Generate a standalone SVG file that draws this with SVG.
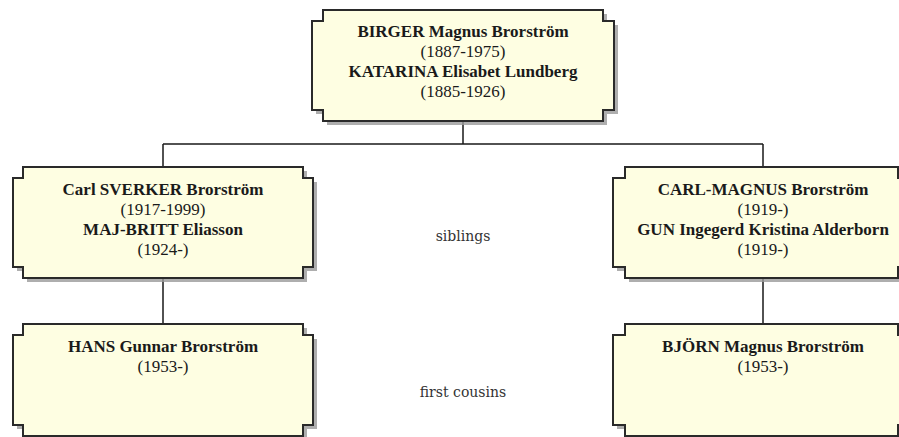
<svg xmlns="http://www.w3.org/2000/svg" width="899" height="437" viewBox="0 0 899 437">
<style>
.box{fill:#fefee2;stroke:#2a2a2a;stroke-width:2}
.sh{fill:#9a9a9a;opacity:0.8}
.b{font-family:"Liberation Serif",serif;font-weight:bold;font-size:17px;fill:#1a1a1a;text-anchor:middle}
.r{font-family:"Liberation Serif",serif;font-size:17px;fill:#1a1a1a;text-anchor:middle}
.lbl{font-family:"DejaVu Serif",serif;font-size:14px;fill:#333;text-anchor:middle}
.con{stroke:#1a1a1a;stroke-width:1.5;fill:none}
</style>
<rect width="899" height="437" fill="#ffffff"/>
<g id="connectors">
<path class="con" d="M463,121 V144 M163,144 H763 M163,144 V167 M763,144 V167 M163,278 V324 M763,278 V324"/>
</g>
<g id="birger">
<polygon class="sh" transform="translate(4,4)" points="323,10 603,10 603,21 614,21 614,110 603,110 603,121 323,121 323,110 312,110 312,21 323,21"/>
<polygon class="box" points="323,10 603,10 603,21 614,21 614,110 603,110 603,121 323,121 323,110 312,110 312,21 323,21"/>
<text class="b" x="463" y="37">BIRGER Magnus Brorström</text>
<text class="r" x="463" y="57">(1887-1975)</text>
<text class="b" x="463" y="77">KATARINA Elisabet Lundberg</text>
<text class="r" x="463" y="97">(1885-1926)</text>
</g>
<g id="sverker">
<polygon class="sh" transform="translate(4,4)" points="23,167 303,167 303,178 313,178 313,267 303,267 303,278 23,278 23,267 13,267 13,178 23,178"/>
<polygon class="box" points="23,167 303,167 303,178 313,178 313,267 303,267 303,278 23,278 23,267 13,267 13,178 23,178"/>
<text class="b" x="163" y="195">Carl SVERKER Brorström</text>
<text class="r" x="163" y="215">(1917-1999)</text>
<text class="b" x="163" y="235">MAJ-BRITT Eliasson</text>
<text class="r" x="163" y="255">(1924-)</text>
</g>
<g id="carlmagnus">
<polygon class="sh" transform="translate(4,4)" points="625,167 898,167 898,178 910,178 910,267 898,267 898,278 625,278 625,267 613,267 613,178 625,178"/>
<polygon class="box" points="625,167 898,167 898,178 910,178 910,267 898,267 898,278 625,278 625,267 613,267 613,178 625,178"/>
<text class="b" x="763" y="195">CARL-MAGNUS Brorström</text>
<text class="r" x="763" y="215">(1919-)</text>
<text class="b" x="763" y="235">GUN Ingegerd Kristina Alderborn</text>
<text class="r" x="763" y="255">(1919-)</text>
</g>
<g id="hans">
<polygon class="sh" transform="translate(4,4)" points="23,324 303,324 303,335 313,335 313,425 303,425 303,436 23,436 23,425 13,425 13,335 23,335"/>
<polygon class="box" points="23,324 303,324 303,335 313,335 313,425 303,425 303,436 23,436 23,425 13,425 13,335 23,335"/>
<text class="b" x="163" y="352">HANS Gunnar Brorström</text>
<text class="r" x="163" y="372">(1953-)</text>
</g>
<g id="bjorn">
<polygon class="sh" transform="translate(4,4)" points="625,324 898,324 898,335 910,335 910,425 898,425 898,436 625,436 625,425 613,425 613,335 625,335"/>
<polygon class="box" points="625,324 898,324 898,335 910,335 910,425 898,425 898,436 625,436 625,425 613,425 613,335 625,335"/>
<text class="b" x="763" y="352">BJÖRN Magnus Brorström</text>
<text class="r" x="763" y="372">(1953-)</text>
</g>
<g id="labels">
<text class="lbl" x="463" y="241">siblings</text>
<text class="lbl" x="463" y="397">first cousins</text>
</g>
</svg>
